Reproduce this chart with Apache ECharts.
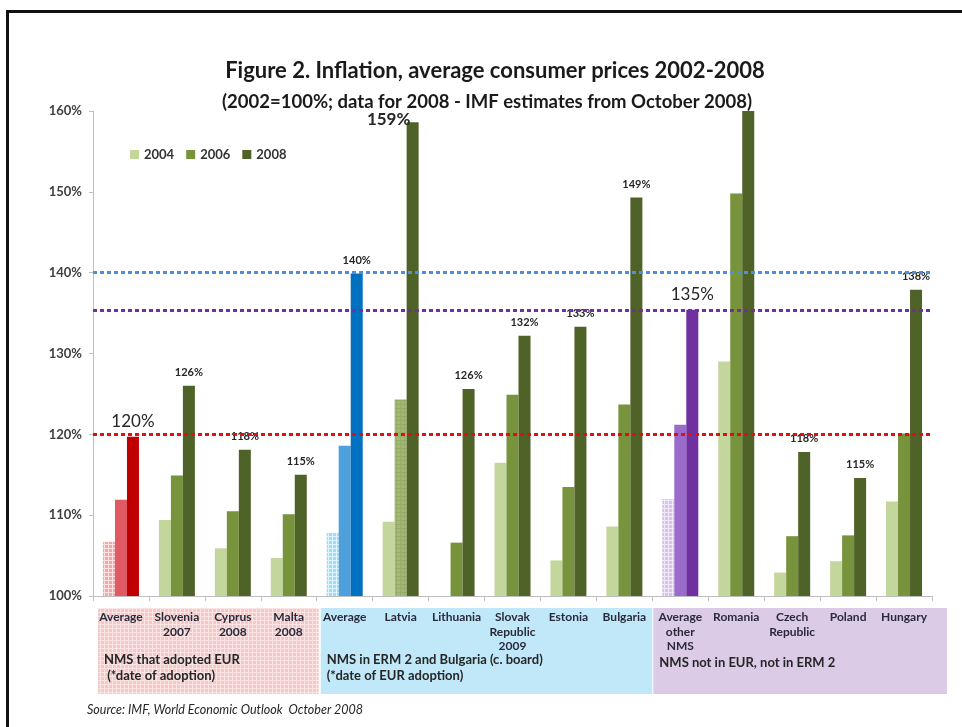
<!DOCTYPE html>
<html>
<head>
<meta charset="utf-8">
<script src="https://cdn.jsdelivr.net/npm/echarts@6/dist/echarts.min.js"></script>
<style>
html,body{margin:0;padding:0;background:#fff;}
#chart{width:962px;height:727px;}
</style>
</head>
<body>
<div id="chart"></div>
<script>
// ---- data ----
var categories = ["Average", "Slovenia\n2007", "Cyprus\n2008", "Malta\n2008", "Average", "Latvia", "Lithuania", "Slovak\nRepublic\n2009", "Estonia", "Bulgaria", "Average\nother\nNMS", "Romania", "Czech\nRepublic", "Poland", "Hungary"];
var values2004 = [106.7, 109.4, 105.9, 104.7, 107.8, 109.2, null, 116.5, 104.4, 108.6, 112.0, 129.0, 102.9, 104.3, 111.7];
var values2006 = [111.9, 114.9, 110.5, 110.1, 118.6, 124.3, 106.6, 124.9, 113.5, 123.7, 121.2, 149.8, 107.4, 107.5, 120.1];
var values2008 = [119.7, 126.0, 118.1, 115.0, 139.9, 158.6, 125.6, 132.2, 133.3, 149.3, 135.4, 160.0, 117.8, 114.6, 137.9];
var labels2008 = ["120%", "126%", "118%", "115%", "140%", "159%", "126%", "132%", "133%", "149%", "135%", "", "118%", "115%", "138%"];
var referenceLines = [140, 135.4, 120];
var yTicks = [100, 110, 120, 130, 140, 150, 160];
var groupTitles = ["NMS that adopted EUR\n (*date of adoption)", "NMS in ERM 2 and Bulgaria (c. board)\n(*date of EUR adoption)", "NMS not in EUR, not in ERM 2"];

// ---- styling ----
var FONT = 'Lato';
var green = ['#c3d69b', '#77933c', '#4f6228'];
function pattern(bg, fg) {
  var c = document.createElement('canvas');
  c.width = 4; c.height = 4;
  var ctx = c.getContext('2d');
  ctx.fillStyle = bg; ctx.fillRect(0, 0, 4, 4);
  ctx.fillStyle = fg; ctx.fillRect(0, 0, 4, 1); ctx.fillRect(0, 0, 1, 4);
  return { image: c, repeat: 'repeat' };
}
var avgColors = {
  0: [pattern('#f0a8aa', '#fbe0e0'), '#df5a62', '#c00000'],
  4: [pattern('#9fdcf6', '#dff4fc'), '#4ea0dc', '#0070c0'],
  10: [pattern('#d6c2ea', '#f1e9f8'), '#9b6bcb', '#7030a0']
};
var refColors = ['#4f8fd8', '#7030a0', '#e01010'];
var bigLabel = {0: true, 5: true, 10: true};

function buildData(vals, s) {
  return vals.map(function (v, i) {
    var item = { value: v };
    if (avgColors[i]) item.itemStyle = { color: avgColors[i][s] };
    if (s === 1 && i === 5) item.itemStyle = { color: pattern('#a3b978', '#96ad68') };
    if (s === 2) {
      var txt = labels2008[i];
      if (txt) {
        item.label = {
          show: true, position: 'top', formatter: txt,
          fontFamily: FONT, color: '#262626',
          fontSize: bigLabel[i] ? 17 : 11,
          fontWeight: (i === 5) ? 'bold' : (bigLabel[i] ? 'normal' : 'bold'),
          distance: bigLabel[i] ? 7 : 8,
          offset: i === 5 ? [-24, 13] : [0, 0]
        };
      }
    }
    return item;
  });
}

var chart = echarts.init(document.getElementById('chart'));
var option = {
  backgroundColor: '#ffffff',
  animation: false,
  title: [
    { text: 'Figure 2. Inflation, average consumer prices 2002-2008', left: 490, top: 55, textAlign: 'center',
      textStyle: { fontFamily: FONT, fontSize: 22, fontWeight: 'bold', color: '#1a1a1a' } },
    { text: '(2002=100%; data for 2008 - IMF estimates from October 2008)', left: 482, top: 88, textAlign: 'center',
      textStyle: { fontFamily: FONT, fontSize: 18.5, fontWeight: 'bold', color: '#1a1a1a' } }
  ],
  legend: {
    left: 125, top: 143, itemWidth: 9, itemHeight: 9, itemGap: 12,
    icon: 'rect',
    textStyle: { fontFamily: FONT, fontSize: 13, fontWeight: 'bold', color: '#333' },
    data: ['2004', '2006', '2008']
  },
  grid: { left: 93, right: 30, top: 111, bottom: 131 },
  xAxis: {
    type: 'category', data: categories,
    axisLine: { lineStyle: { color: '#bfbfbf' } },
    axisTick: { show: true, length: 5, lineStyle: { color: '#bfbfbf' } },
    axisLabel: { interval: 0, margin: 14, lineHeight: 14.5, fontFamily: FONT, fontSize: 12, fontWeight: 'bold', color: '#2a2a3a' },
    z: 5
  },
  yAxis: {
    type: 'value', min: yTicks[0], max: yTicks[yTicks.length - 1], interval: 10,
    axisLine: { show: true, lineStyle: { color: '#bfbfbf' } },
    axisTick: { show: true, length: 4, lineStyle: { color: '#bfbfbf' } },
    splitLine: { show: false },
    axisLabel: { formatter: '{value}%', margin: 11, fontFamily: FONT, fontSize: 13, fontWeight: 'bold', color: '#404040' }
  },
  series: [
    { name: '2004', type: 'bar', barWidth: 12, barGap: '0%', itemStyle: { color: green[0] }, data: buildData(values2004, 0) },
    { name: '2006', type: 'bar', barWidth: 12, barGap: '0%', itemStyle: { color: green[1] }, data: buildData(values2006, 1) },
    { name: '2008', type: 'bar', barWidth: 12, barGap: '0%', itemStyle: { color: green[2] }, data: buildData(values2008, 2) },
    { name: 'ref', type: 'line', data: [], z: 10, silent: true,
      markLine: {
        silent: true, symbol: ['none', 'none'], label: { show: false },
        data: referenceLines.map(function (v, i) {
          return { yAxis: v, lineStyle: { color: refColors[i], type: [4, 3], width: 3 } };
        })
      }
    }
  ]
};
chart.setOption(option);

// group boxes under the category axis, positioned from the axis scale
function catX(i) { return chart.convertToPixel({ xAxisIndex: 0 }, i); }
var band = catX(1) - catX(0);
function leftEdge(i) { return catX(i) - band / 2; }
var axisY = chart.convertToPixel({ yAxisIndex: 0 }, yTicks[0]);
var boxTop = axisY + 12, boxBottom = axisY + 98;
var boxes = [
  { x0: leftEdge(0) + 5, x1: leftEdge(4) + 2, fill: pattern('#f5c8c8', '#fbe4e4'), dy: 56 },
  { x0: leftEdge(4) + 4, x1: leftEdge(10), fill: '#c0e8f8', dy: 56 },
  { x0: leftEdge(10) + 1, x1: leftEdge(14) + band + 15, fill: '#dccbe7', dy: 59 }
];
var graphics = [];
boxes.forEach(function (b, i) {
  graphics.push({ type: 'rect', z: 0, silent: true,
    shape: { x: b.x0, y: boxTop, width: b.x1 - b.x0, height: boxBottom - boxTop },
    style: { fill: b.fill } });
  graphics.push({ type: 'text', z: 1, silent: true,
    left: b.x0 + 6, top: axisY + b.dy,
    style: { text: groupTitles[i], font: 'bold 13px ' + FONT, fill: '#262626', lineHeight: 16 } });
});
graphics.push({ type: 'text', left: 87, top: 703, silent: true,
  style: { text: 'Source: IMF, World Economic Outlook  October 2008', font: 'italic 12.5px ' + FONT, fill: '#262626' } });
// slide frame
graphics.push({ type: 'rect', silent: true, shape: { x: 7.5, y: 11.5, width: 990, height: 800 },
  style: { fill: 'none', stroke: '#111', lineWidth: 3 } });
chart.setOption({ graphic: graphics });
</script>
</body>
</html>
